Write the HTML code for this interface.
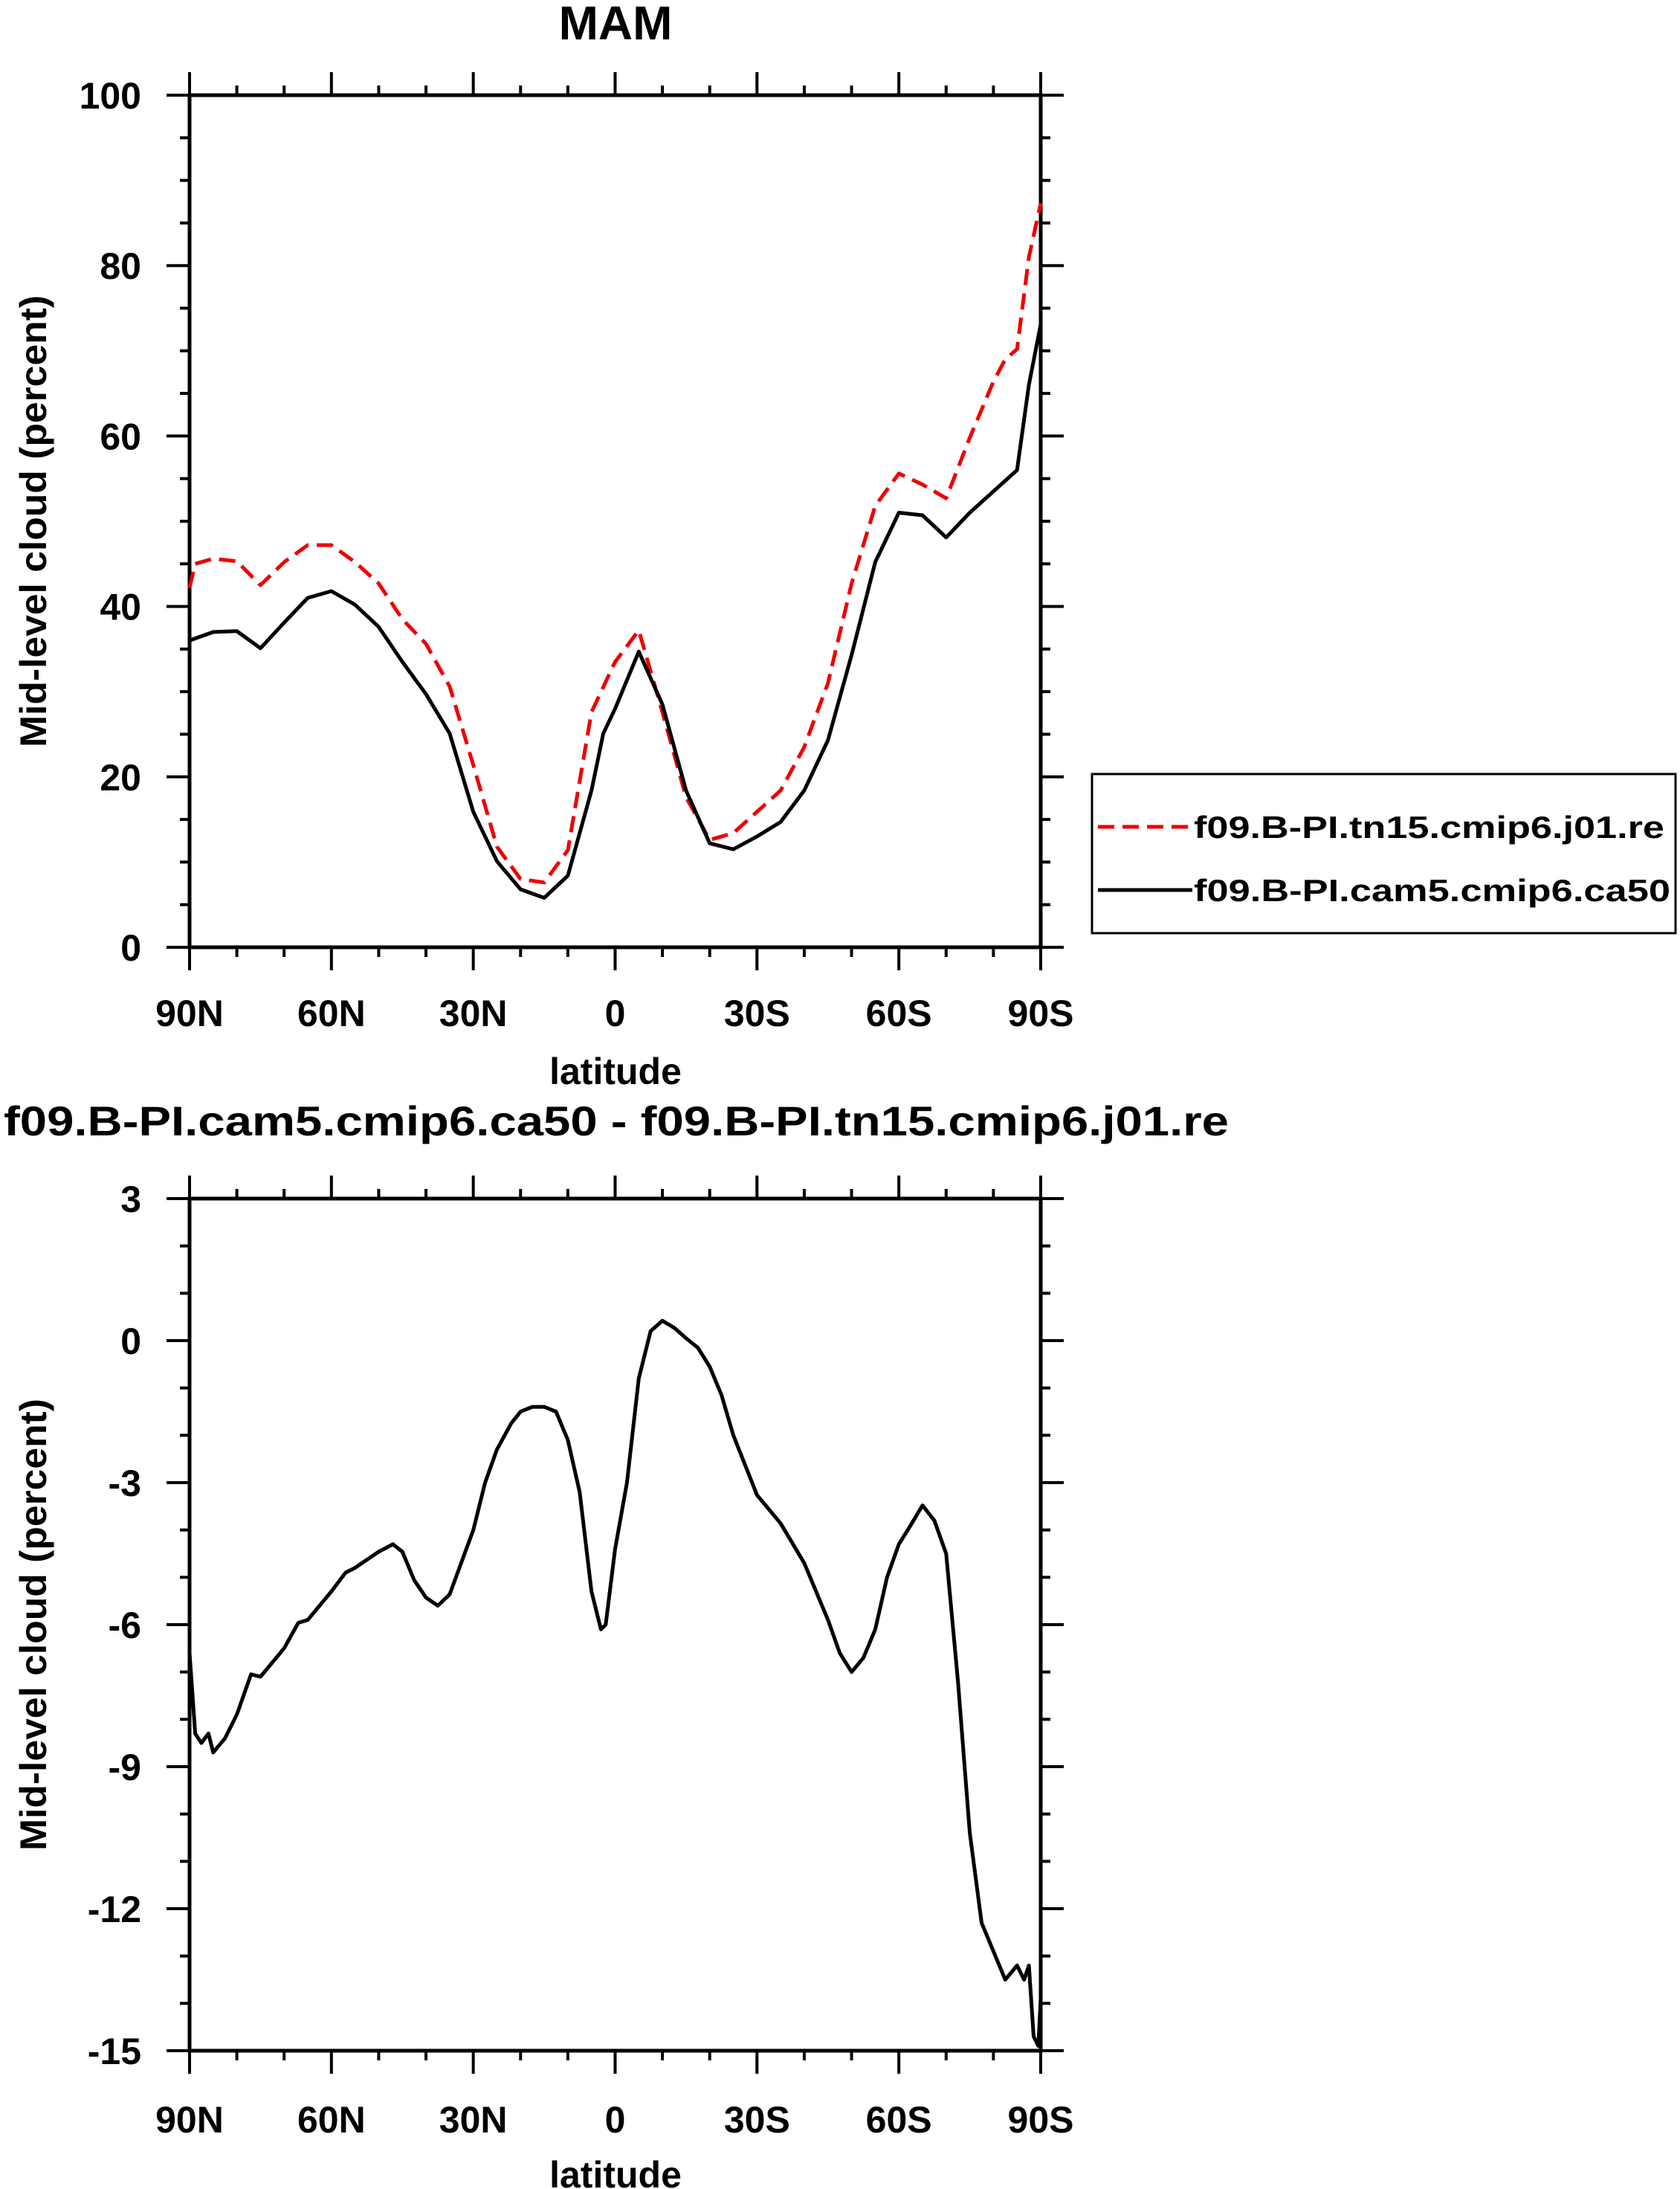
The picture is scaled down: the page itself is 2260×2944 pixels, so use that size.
<!DOCTYPE html>
<html><head><meta charset="utf-8"><style>body{margin:0;background:#fff}svg{display:block}text{font-family:"Liberation Sans",sans-serif;font-weight:bold;fill:#000}</style></head>
<body>
<svg id="chart" width="2260" height="2944" viewBox="0 0 2260 2944" xmlns="http://www.w3.org/2000/svg">
<text x="828" y="53" font-size="64" text-anchor="middle">MAM</text>
<text x="5" y="1527" font-size="56" textLength="1648" lengthAdjust="spacingAndGlyphs">f09.B-PI.cam5.cmip6.ca50 - f09.B-PI.tn15.cmip6.j01.re</text>
<g id="top"></g>
<g id="bot"></g>
<g>
<rect x="1469" y="1041" width="785" height="214" fill="#fff" stroke="#000" stroke-width="3"/>
<line x1="1477" y1="1112" x2="1604" y2="1112" stroke="#e00" stroke-width="5" stroke-dasharray="22,11"/>
<text x="1606" y="1127" font-size="42" textLength="633" lengthAdjust="spacingAndGlyphs">f09.B-PI.tn15.cmip6.j01.re</text>
<line x1="1477" y1="1197" x2="1604" y2="1197" stroke="#000" stroke-width="5"/>
<text x="1606" y="1212" font-size="42" textLength="641" lengthAdjust="spacingAndGlyphs">f09.B-PI.cam5.cmip6.ca50</text>
</g>
</svg>
<script>
const latTicks=[90,60,30,0,-30,-60,-90];
const latLabels=['90N','60N','30N','0','30S','60S','90S'];
const topYTicks=[0,20,40,60,80,100];
const botYTicks=[-15,-12,-9,-6,-3,0,3];
const redLat=[90,88.8,85,80,75,70,65,60,55,50,45,40,35,30,25,20,15,10,5,0,-5,-10,-15,-20,-25,-30,-35,-40,-45,-50,-55,-60,-65,-70,-75,-80,-82.5,-85,-87.5,-90];
const redVal=[42.2,45,45.6,45.3,42.5,45.2,47.2,47.2,45.2,42.7,38.5,35.6,30.6,21.4,11.8,8.0,7.6,11.4,27.6,33.5,37.2,27.6,17.6,12.6,13.4,15.9,18.4,23.5,31.0,42.7,51.8,55.6,54.3,52.7,59.8,66.4,69,70.2,81,87.3];
const blkLat=[90,85,80,75,70,65,60,55,50,45,40,35,30,25,20,15,10,5,2.5,0,-5,-10,-15,-20,-25,-30,-35,-40,-45,-50,-55,-60,-65,-70,-75,-80,-85,-87.5,-90];
const blkVal=[36.0,37.0,37.1,35.1,38.1,41.0,41.8,40.2,37.6,33.5,29.7,25.1,15.9,10.1,6.8,5.8,8.4,18.4,25.1,28.0,34.7,28.5,18.4,12.2,11.5,13.0,14.7,18.4,24.3,34.3,45.2,51.0,50.7,48.1,51.0,53.5,56.0,66,73.1];
const diffLat=[90,88.8,87.5,86,85,82.5,80,77,75,70,67,65,60,57,55,50,47,45,42.5,40,37.5,35,30,27.5,25,22,20,17.5,15,12.5,10,7.5,5,3,2,0,-2.5,-5,-7.5,-10,-12.5,-15,-17.5,-20,-22.5,-25,-30,-35,-40,-45,-47.5,-50,-52.5,-55,-57.5,-60,-62.5,-65,-67.5,-70,-72.5,-75,-77.5,-80,-82.5,-85,-86.5,-87.5,-88.5,-89.5,-90];
const diffVal=[-6.6,-8.3,-8.5,-8.3,-8.7,-8.4,-7.9,-7.05,-7.1,-6.5,-5.96,-5.9,-5.3,-4.9,-4.8,-4.46,-4.3,-4.46,-5.06,-5.43,-5.6,-5.36,-4.0,-3.0,-2.3,-1.75,-1.5,-1.4,-1.4,-1.5,-2.1,-3.2,-5.3,-6.1,-6.0,-4.4,-3.0,-0.8,0.2,0.42,0.27,0.05,-0.15,-0.55,-1.15,-2.0,-3.26,-3.86,-4.7,-5.9,-6.6,-7.0,-6.7,-6.1,-5.0,-4.3,-3.9,-3.48,-3.8,-4.5,-7.2,-10.4,-12.3,-12.9,-13.5,-13.2,-13.5,-13.2,-14.7,-14.9,-13.9];

const NS='http://www.w3.org/2000/svg';
function mk(tag,attrs,parent){const e=document.createElementNS(NS,tag);for(const k in attrs)e.setAttribute(k,attrs[k]);parent.appendChild(e);return e;}
const L=255,R=1400;
function xs(lat){return L+(90-lat)/180*(R-L);}

function panel(g,top,bot,ymin,ymax,yticks,minorStep,latY,labY){
  const ys=v=>bot-(v-ymin)/(ymax-ymin)*(bot-top);
  const frame=mk('rect',{x:L,y:top,width:R-L,height:bot-top,fill:'none',stroke:'#000','stroke-width':5},g);
  
  
  for(let v=ymin;v<=ymax+1e-9;v+=minorStep){
    const major=yticks.some(t=>Math.abs(t-v)<1e-9);const len=major?31:13;
    const y=ys(v);
    const t1=mk('line',{x1:L-len,y1:y,x2:L,y2:y,stroke:'#000','stroke-width':4},g);
    
    
    const t2=mk('line',{x1:R,y1:y,x2:R+len,y2:y,stroke:'#000','stroke-width':4},g);
    
    
  }
  yticks.forEach(v=>{
    const t=mk('text',{x:190,y:ys(v)+18,'font-size':50,'text-anchor':'end'},g);t.textContent=v;
    
    
  });
  for(let lat=90;lat>=-90;lat-=10){
    const major=latTicks.includes(lat);const len=major?31:13;const x=xs(lat);
    const a=mk('line',{x1:x,y1:bot,x2:x,y2:bot+len,stroke:'#000','stroke-width':4},g);
    
    
    const b=mk('line',{x1:x,y1:top-len,x2:x,y2:top,stroke:'#000','stroke-width':4},g);
    
    
  }
  latTicks.forEach((lat,i)=>{
    const t=mk('text',{x:xs(lat),y:latY,'font-size':50,'text-anchor':'middle'},g);t.textContent=latLabels[i];
    
    
  });
  const xl=mk('text',{x:828,y:labY,'font-size':50,'text-anchor':'middle'},g);xl.textContent='latitude';
  
  
  const cy=(top+bot)/2;
  const yl=mk('text',{x:0,y:0,'font-size':50,'text-anchor':'middle',transform:`translate(62 ${cy}) rotate(-90)`,textLength:608,lengthAdjust:'spacingAndGlyphs'},g);yl.textContent='Mid-level cloud (percent)';
  
  
  return ys;
}
function series(g,lats,vals,ys,color,dash,name){
  const d=lats.map((la,i)=>(i?'L':'M')+xs(la).toFixed(1)+' '+ys(vals[i]).toFixed(1)).join(' ');
  const p=mk('path',{d:d,fill:'none',stroke:color,'stroke-width':5,'stroke-linejoin':'round'},g);
  if(dash)p.setAttribute('stroke-dasharray',dash);
  
  
}
const gt=document.getElementById('top');
const yt=panel(gt,128,1274,0,100,topYTicks,5,1380,1458);
series(gt,redLat,redVal,yt,'#e00','22,11','series-tn15');
series(gt,blkLat,blkVal,yt,'#000',null,'series-cam5');
const gb=document.getElementById('bot');
const yb=panel(gb,1612,2758,-15,3,botYTicks,1,2868,2942);
series(gb,diffLat,diffVal,yb,'#000',null,'series-difference');
</script>
</body></html>
